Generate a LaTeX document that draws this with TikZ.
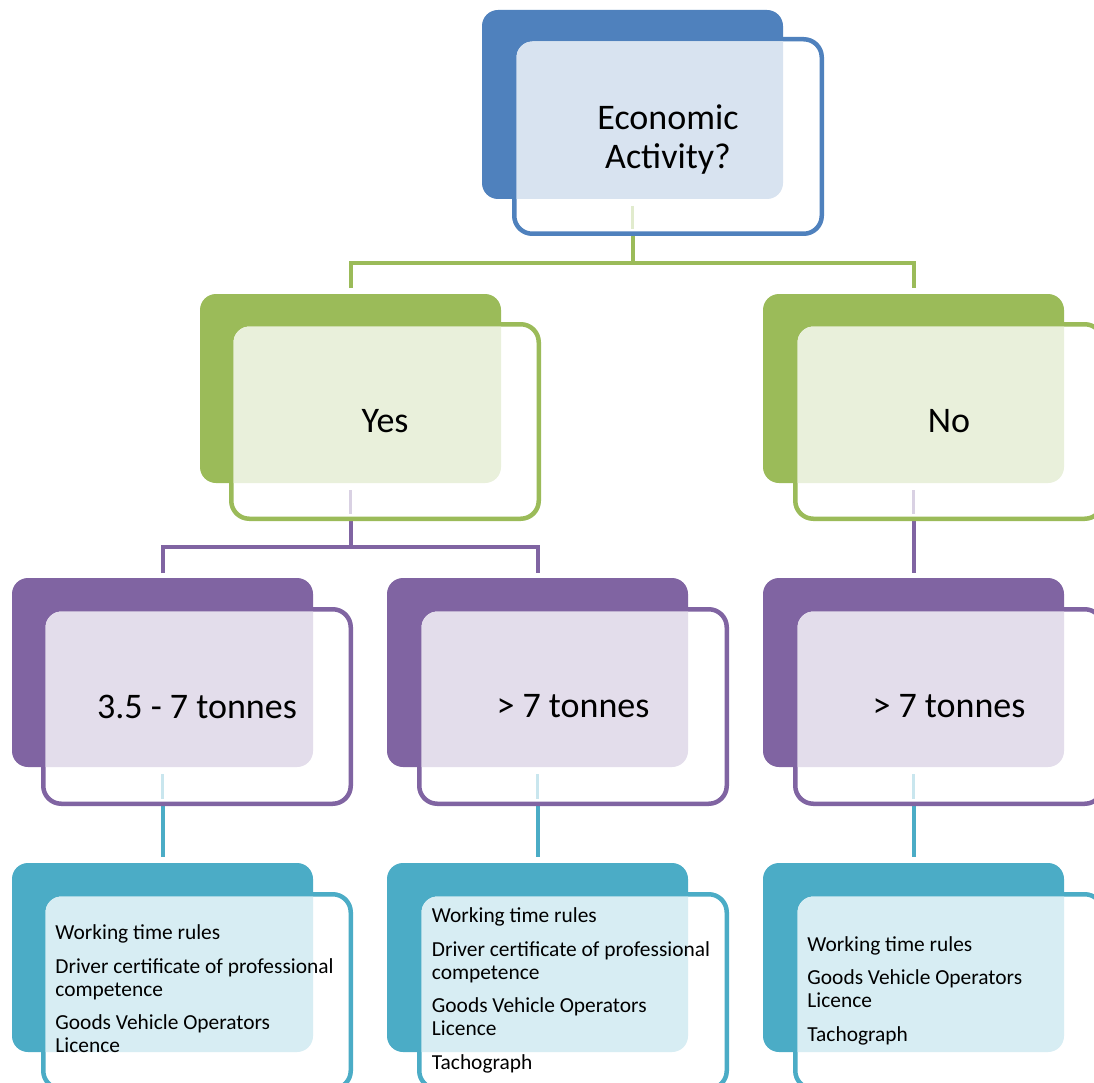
\documentclass[tikz,border=0pt]{standalone}
\usepackage{fontspec}
\setmainfont{Carlito}
\usetikzlibrary{calc,backgrounds}

\definecolor{cblue}{HTML}{4F81BD}
\definecolor{cgreen}{HTML}{9BBB59}
\definecolor{cpurple}{HTML}{8064A2}
\definecolor{cteal}{HTML}{4BACC6}

\tikzset{
  backbox/.style={rectangle, rounded corners=16pt, minimum width=301pt,
    minimum height=189pt, anchor=north west, inner sep=0pt, outer sep=0pt},
  frontbox/.style={rectangle, rounded corners=18pt, minimum width=307.5pt,
    minimum height=194.5pt, anchor=north west, inner sep=0pt, outer sep=0pt,
    line width=4.5pt, fill=white},
  link/.style={line width=4pt, line join=miter},
  stripe/.style={line width=3pt, draw=#1!30!white},
  bigtext/.style={font=\fontsize{36}{39.5}\selectfont, align=center, inner sep=0pt},
  listtext/.style={font=\fontsize{21.4}{23}\selectfont, align=left, anchor=west, inner sep=0pt},
}

% one SmartArt-like unit: filled back card, outlined front card, tinted overlap
% #1 name, #2 colour, #3,#4 back card corner, #5,#6 front card corner
\newcommand\diagunit[6]{%
  \node[backbox, fill=#2] (#1b) at (#3,#4) {};
  \node[frontbox, draw=#2] (#1) at (#5+2.25,#6+2.25) {};
  \begin{scope}
    \clip[rounded corners=15.75pt] ([xshift=2.25pt,yshift=-2.25pt]#1.north west)
      rectangle ([xshift=-2.25pt,yshift=2.25pt]#1.south east);
    \fill[#2!22!white, rounded corners=16pt] (#1b.north west) rectangle (#1b.south east);
  \end{scope}
}

\begin{document}
\begin{tikzpicture}[x=1pt, y=-1pt]
\useasboundingbox (0,0) rectangle (1094,1083);
\clip (0,0) rectangle (1094,1083);

% cards
\diagunit{top}{cblue}{482}{10}{512}{37}
\diagunit{yes}{cgreen}{200}{294}{229}{322}
\diagunit{no}{cgreen}{763}{294}{793}{322}
\diagunit{light}{cpurple}{12}{578}{41}{607}
\diagunit{heavy}{cpurple}{387}{578}{417}{607}
\diagunit{heavyn}{cpurple}{763}{578}{793}{607}
\diagunit{rulesA}{cteal}{12}{863}{41}{892}
\diagunit{rulesB}{cteal}{387}{863}{417}{892}
\diagunit{rulesC}{cteal}{763}{863}{793}{892}

% connector traces seen through the front cards
\draw[stripe=cgreen] ([yshift=-7pt]topb.south) -- ($(topb.south |- top.south)+(0,5pt)$);
\draw[stripe=cpurple] ([yshift=-7pt]yesb.south) -- ($(yesb.south |- yes.south)+(0,5pt)$);
\draw[stripe=cpurple] ([yshift=-7pt]nob.south) -- ($(nob.south |- no.south)+(0,5pt)$);
\draw[stripe=cteal] ([yshift=-7pt]lightb.south) -- ($(lightb.south |- light.south)+(0,5pt)$);
\draw[stripe=cteal] ([yshift=-7pt]heavyb.south) -- ($(heavyb.south |- heavy.south)+(0,5pt)$);
\draw[stripe=cteal] ([yshift=-7pt]heavynb.south) -- ($(heavynb.south |- heavyn.south)+(0,5pt)$);

% labels
\node[bigtext, yshift=-3pt] (top-t) at (top.center) {Economic\\Activity?};
\node[bigtext] (yes-t) at (yes.center) {Yes};
\node[bigtext] (no-t) at (no.center) {No};
\node[bigtext] (light-t) at (light.center) {3.5 - 7 tonnes};
\node[bigtext] (heavy-t) at (heavy.center) {> 7 tonnes};
\node[bigtext] (heavyn-t) at (heavyn.center) {> 7 tonnes};

\node[listtext] (rulesA-t) at ([xshift=12pt]rulesA.west)
  {\strut Working time rules\\[10.5pt]
   Driver certificate of professional\\ competence\\[10.5pt]
   Goods Vehicle Operators\\ Licence\strut};
\node[listtext] (rulesB-t) at ([xshift=12.5pt]rulesB.west)
  {\strut Working time rules\\[10.5pt]
   Driver certificate of professional\\ competence\\[10.5pt]
   Goods Vehicle Operators\\ Licence\\[10.5pt]
   Tachograph\strut};
\node[listtext] (rulesC-t) at ([xshift=12pt]rulesC.west)
  {\strut Working time rules\\[10.5pt]
   Goods Vehicle Operators\\ Licence\\[10.5pt]
   Tachograph\strut};

% connectors, behind the cards
\begin{scope}[on background layer]
  \fill[white] (0,0) rectangle (1094,1083);
  \coordinate (g-bar) at (0,263);
  \coordinate (p-bar) at (0,547);
  \draw[link, draw=cgreen] (topb.south |- top.south) -- (topb.south |- g-bar);
  \draw[link, draw=cgreen] ([yshift=6pt]yesb.north) -- (yesb.north |- g-bar)
    -- (nob.north |- g-bar) -- ([yshift=6pt]nob.north);
  \draw[link, draw=cpurple] (yesb.south |- yes.south) -- (yesb.south |- p-bar);
  \draw[link, draw=cpurple] ([yshift=5pt]lightb.north) -- (lightb.north |- p-bar)
    -- (heavyb.north |- p-bar) -- ([yshift=5pt]heavyb.north);
  \draw[link, draw=cpurple] (nob.south |- no.south) -- ([yshift=5pt]heavynb.north);
  \draw[link, draw=cteal] (lightb.south |- light.south) -- ([yshift=6pt]rulesAb.north);
  \draw[link, draw=cteal] (heavyb.south |- heavy.south) -- ([yshift=6pt]rulesBb.north);
  \draw[link, draw=cteal] (heavynb.south |- heavyn.south) -- ([yshift=6pt]rulesCb.north);
\end{scope}
\end{tikzpicture}
\end{document}
